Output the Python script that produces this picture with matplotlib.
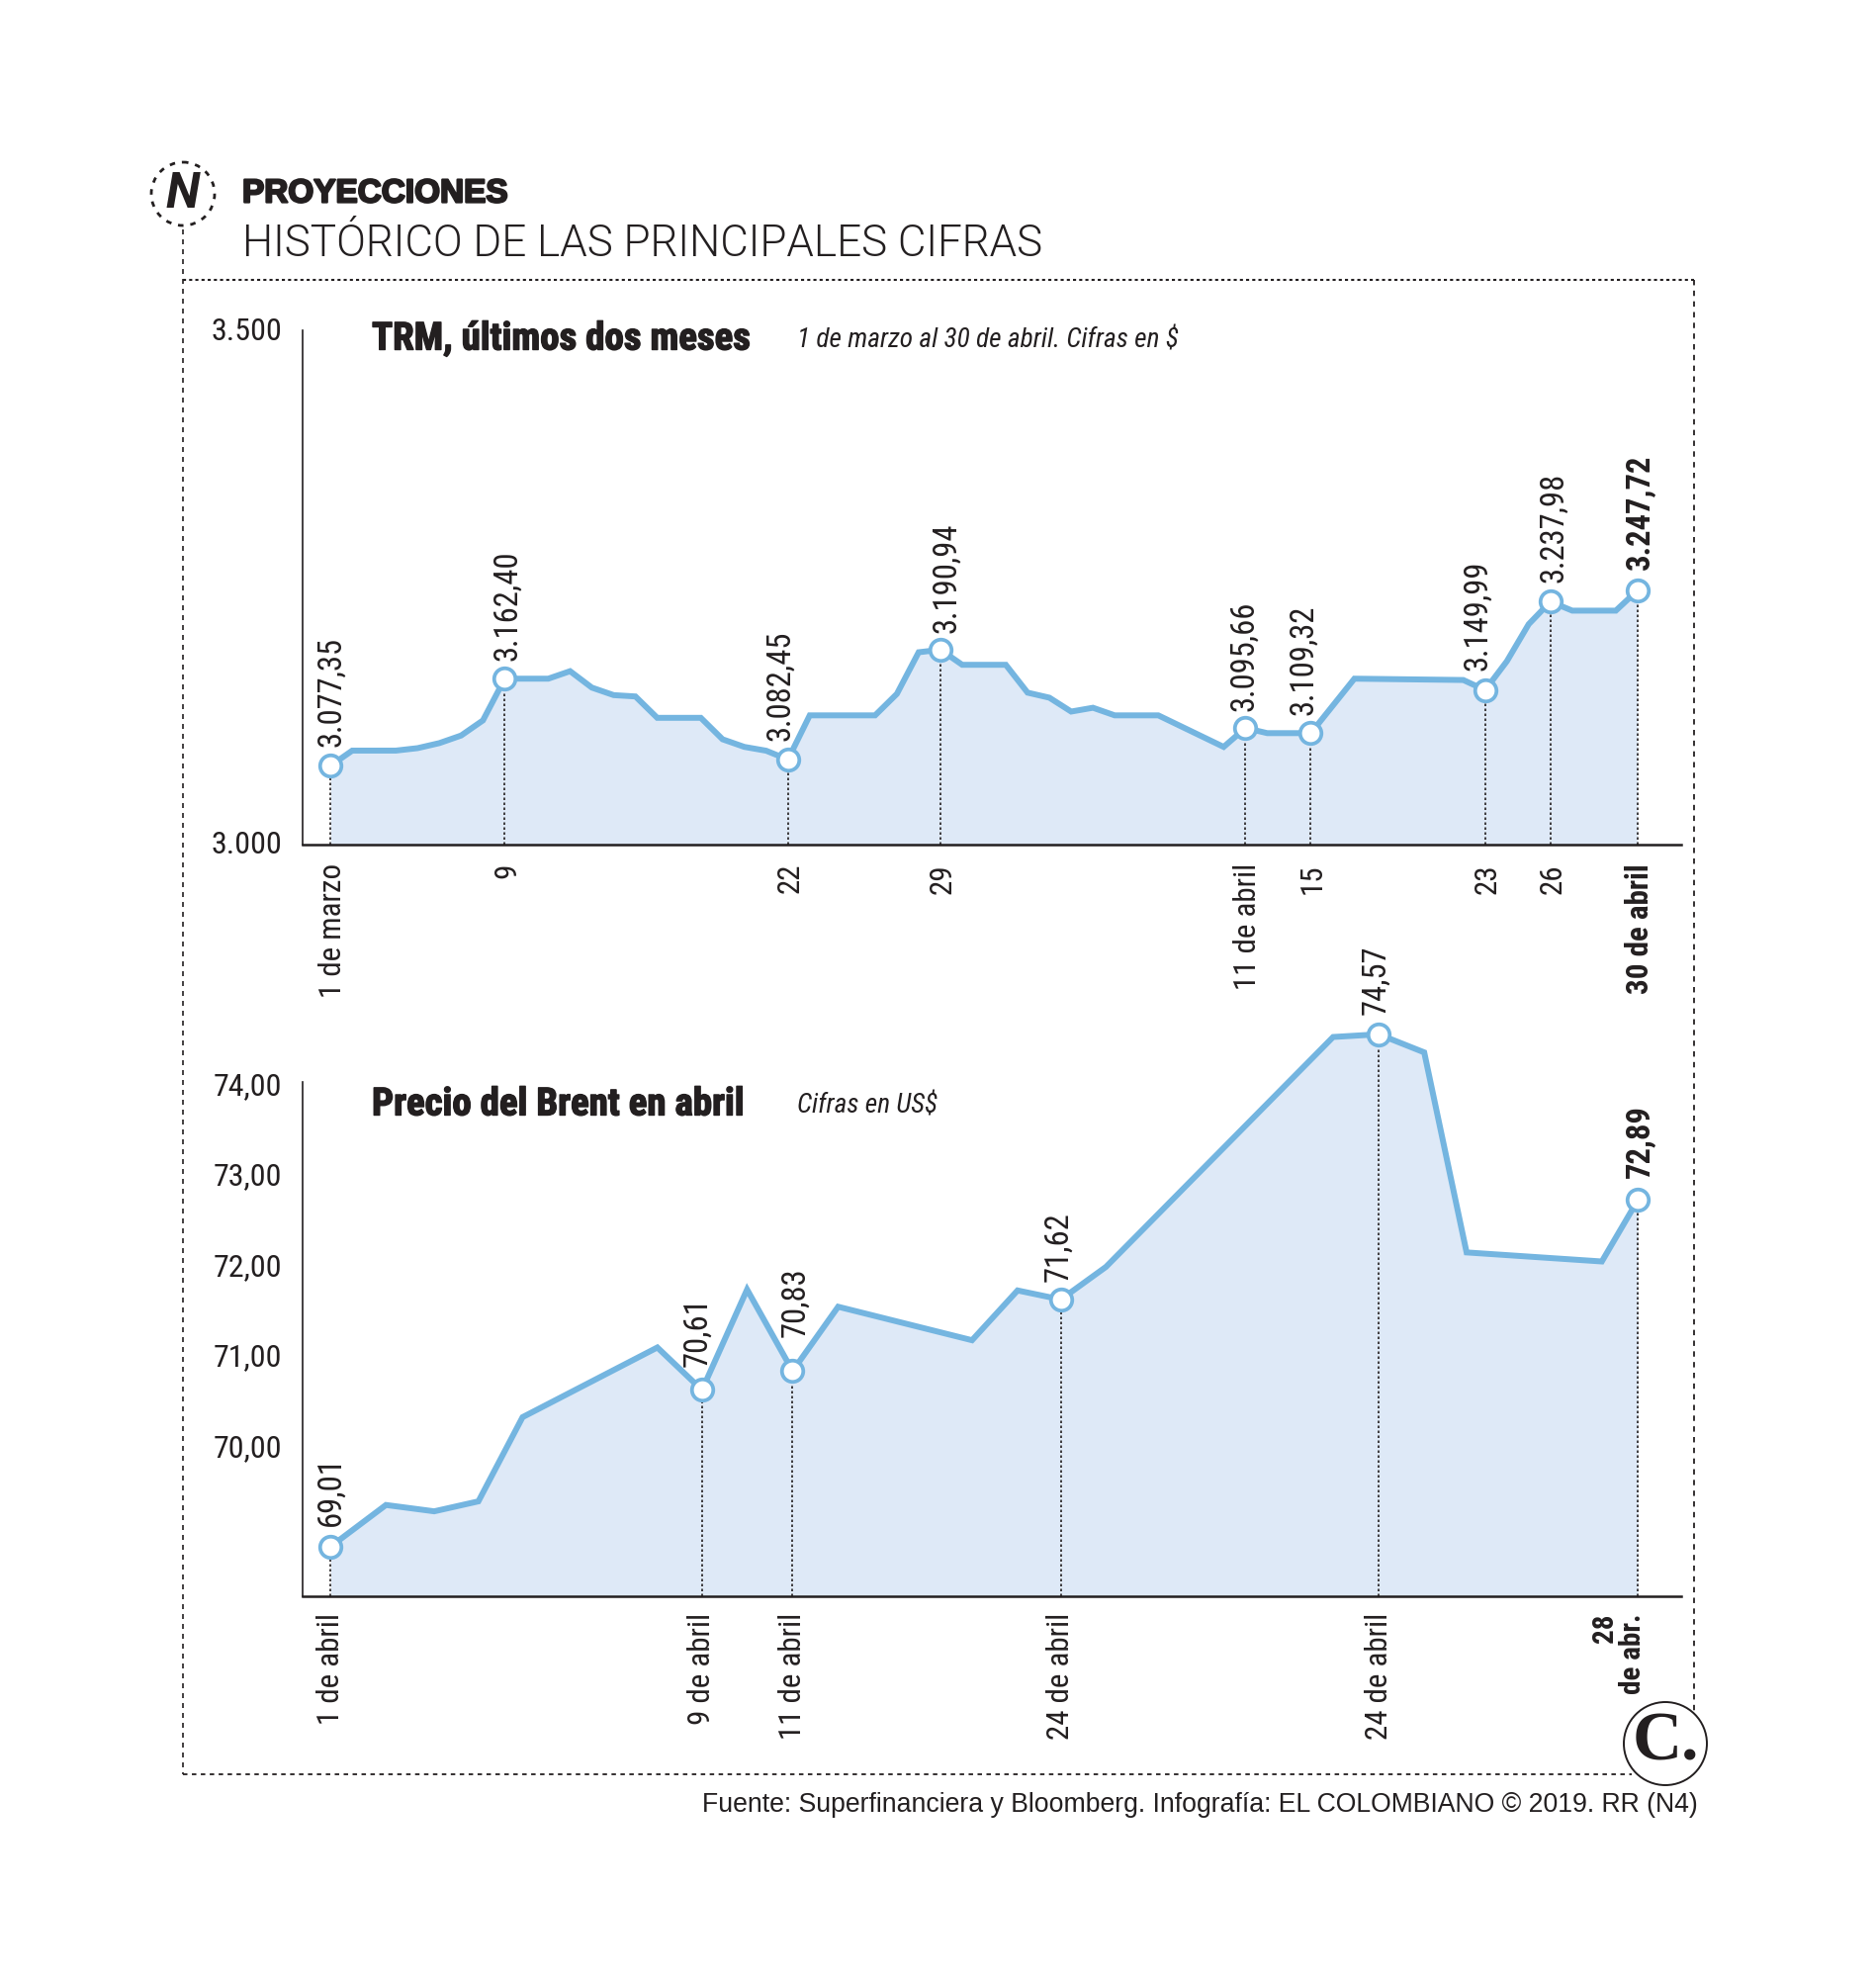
#!/usr/bin/env python3
import matplotlib
matplotlib.use("Agg")
import matplotlib.pyplot as plt
import matplotlib.patheffects as pe
from matplotlib.patches import Circle
from matplotlib.transforms import ScaledTranslation

# TRM series: position on the day axis and value
trm_x = [0, 1, 3, 4, 5, 6, 7, 8, 10, 11, 12, 13, 14, 15, 17, 18, 19, 20, 21, 22, 25, 26, 27, 28, 29,
         31, 32, 33, 34, 35, 36, 38, 41, 42, 43, 45, 47, 52, 53, 54, 55, 56, 57, 59, 60]
trm_y = [3076.2, 3091, 3091, 3093.4, 3098.3, 3105.7, 3120.4, 3161, 3161, 3168.3, 3152.3, 3145, 3143.7,
         3122.9, 3122.9, 3102, 3094.6, 3090.9, 3082.3, 3125.3, 3125.3, 3146.2, 3186.7, 3189.2, 3174.5,
         3174.5, 3147.4, 3142.5, 3129, 3132.7, 3125.3, 3125.3, 3094.6, 3113, 3108, 3108, 3161, 3159.7,
         3149.9, 3178, 3214, 3236, 3227.2, 3227.2, 3247]
trm_marks = [0, 8, 21, 28, 42, 45, 53, 56, 60]
trm_mark_text = ["3.077,35", "3.162,40", "3.082,45", "3.190,94", "3.095,66", "3.109,32", "3.149,99",
                 "3.237,98", "3.247,72"]
trm_ticks = ["1 de marzo", "9", "22", "29", "11 de abril", "15", "23", "26", "30 de abril"]

# Brent series
brent_x = [0, 1.23, 2.3, 3.28, 4.26, 7.25, 8.24, 9.24, 10.25, 11.26, 14.23, 15.24, 16.2, 17.2, 22.24,
           23.25, 24.26, 25.2, 28.2, 29]
brent_y = [68.90, 69.36, 69.29, 69.40, 70.33, 71.10, 70.63, 71.74, 70.84, 71.55, 71.18, 71.73, 71.63,
           71.99, 74.53, 74.56, 74.36, 72.15, 72.05, 72.73]
brent_marks = [0, 8.24, 10.25, 16.2, 23.25, 29]
brent_mark_text = ["69,01", "70,61", "70,83", "71,62", "74,57", "72,89"]
brent_ticks = ["1 de abril", "9 de abril", "11 de abril", "24 de abril", "24 de abril", "28\nde abr."]

# label nudges in points, hand placed per marker
trm_offsets = [(1, 14), (2, 13), (-5.5, 14), (4.5, 12), (-1, 12), (-5.5, 13), (-5.5, 14), (2.5, 14), (2, 15)]
brent_offsets = [(0, 15), (-3.5, 17), (2, 25), (-2, 13), (-2, 14), (2, 16)]

W, H = 1897, 2000
DARK = "#231f20"
LINE = "#74b5e0"
FILL = "#dee9f7"
SANS = ["Liberation Sans", "DejaVu Sans"]
NARROW = ["Roboto Condensed", "Liberation Sans", "DejaVu Sans"]
DOT = (0, (1.5, 1.5))

plt.rcParams["font.family"] = SANS
plt.rcParams["text.color"] = DARK

fig = plt.figure(figsize=(W / 100, H / 100), dpi=100, facecolor="white")

# overlay in pixel coordinates for the frame, heading and logos
bg = fig.add_axes([0, 0, 1, 1])
bg.set_xlim(0, W)
bg.set_ylim(H, 0)
bg.axis("off")


def px_axes(left, top, right, bottom):
    return fig.add_axes([left / W, 1 - bottom / H, (right - left) / W, (bottom - top) / H], facecolor="none")


def shift(label, dx, dy):
    label.set_transform(label.get_transform() + ScaledTranslation(dx / 72, dy / 72, fig.dpi_scale_trans))


def draw_chart(ax, xs, ys, marks, mark_text, offsets, tick_text, ylim, yticks, ylabels, spine_top):
    ax.fill_between(xs, ys, ylim[0], color=FILL, lw=0, zorder=1)
    ax.plot(xs, ys, color=LINE, lw=4.3, solid_joinstyle="miter", zorder=3)
    ax.set_ylim(*ylim)
    lookup = dict(zip(xs, ys))
    for i, (m, txt, off) in enumerate(zip(marks, mark_text, offsets)):
        last = i == len(marks) - 1
        ax.plot([m, m], [ylim[0], lookup[m]], color=DARK, lw=1.2, ls=DOT, zorder=2)
        ax.plot([m], [lookup[m]], marker="o", ms=15.5, mfc="white", mec=LINE, mew=2.7, zorder=4)
        ax.annotate(txt, (m, lookup[m]), xytext=off, textcoords="offset points", rotation=90,
                    ha="center", va="bottom", fontsize=23.5, family=NARROW,
                    fontweight="bold" if last else "normal", color=DARK)
    for s in ("top", "right"):
        ax.spines[s].set_visible(False)
    ax.spines["left"].set_linewidth(1.2)
    ax.spines["left"].set_bounds(ylim[0], spine_top)
    ax.spines["bottom"].set_linewidth(1.8)
    for s in ("left", "bottom"):
        ax.spines[s].set_color(DARK)
    ax.set_yticks(yticks)
    ax.set_yticklabels(ylabels, family=NARROW, fontsize=23, color=DARK)
    ax.set_xticks(marks)
    ax.set_xticklabels(tick_text, rotation=90, family=NARROW, fontsize=22.3, color=DARK, va="top", ha="center")
    ax.tick_params(length=0)
    ax.tick_params(axis="x", pad=14)
    ax.tick_params(axis="y", pad=14.5)
    ax.get_xticklabels()[-1].set_fontweight("bold")
    for lab in ax.get_xticklabels():
        shift(lab, 1.5, 0)
    for lab in ax.get_yticklabels():
        shift(lab, 0, 1.2)


ax1 = px_axes(305.5, 334, 1700, 853.5)
ax1.set_xlim(-1.30, 62.0)
draw_chart(ax1, trm_x, trm_y, trm_marks, trm_mark_text, trm_offsets, trm_ticks, (3000, 3500), [3000, 3500],
           ["3.000", "3.500"], 3500)

ax2 = px_axes(305.5, 1005.5, 1700, 1613.7)
ax2.set_xlim(-0.63, 29.96)
draw_chart(ax2, brent_x, brent_y, brent_marks, brent_mark_text, brent_offsets, brent_ticks, (68.355, 75),
           [70, 71, 72, 73, 74], ["70,00", "71,00", "72,00", "73,00", "74,00"], 74.03)
ax2.tick_params(axis="x", pad=12.5)
# the last label is stacked in two lines, shifted left of its tick
last_lab = ax2.get_xticklabels()[-1]
last_lab.set_multialignment("right")
last_lab.set_linespacing(1.0)
last_lab.set_fontsize(21)
shift(last_lab, -13.5, 0)

# frame
bg.plot([185, 185], [232, 1794], color=DARK, lw=1.2, ls=(0, (3, 3)))
bg.plot([185, 1713], [283, 283], color=DARK, lw=1.5, ls=DOT)
bg.plot([1713, 1713], [283, 1730], color=DARK, lw=1.3, ls=(0, (3, 3)))
bg.plot([185, 1650], [1794, 1794], color=DARK, lw=1.3, ls=(0, (2.5, 2.5)))

# N badge
bg.add_patch(Circle((185, 196), 32, fc="white", ec=DARK, lw=2, ls=(0, (2, 2.5))))
bg.text(185, 196, "N", fontsize=36, fontweight="bold", style="italic", ha="center", va="center",
        family=["Roboto", "Liberation Sans"])

# C logo
bg.add_patch(Circle((1684, 1763), 42, fc="white", ec=DARK, lw=1.4, zorder=5))
bg.text(1684, 1763, "C.", fontsize=50, fontweight="bold", family=["Liberation Serif", "DejaVu Serif"],
        ha="center", va="center", zorder=6)

# heading
bg.text(245, 196, "PROYECCIONES", fontsize=24, fontweight="bold", va="center",
        path_effects=[pe.withStroke(linewidth=1.6, foreground=DARK)])
bg.text(245, 247, "HISTÓRICO DE LAS PRINCIPALES CIFRAS", fontsize=31.7, fontweight=300,
        family=["Roboto", "Liberation Sans"], va="center")

# chart titles
heavy = [pe.withStroke(linewidth=1.0, foreground=DARK)]
bg.text(376, 343, "TRM, últimos dos meses", fontsize=28, fontweight="bold", family=NARROW, va="center",
        path_effects=heavy)
bg.text(806, 345, "1 de marzo al 30 de abril. Cifras en $", fontsize=19.7, style="italic", family=NARROW,
        va="center")
bg.text(376, 1117, "Precio del Brent en abril", fontsize=28, fontweight="bold", family=NARROW, va="center",
        path_effects=heavy)
bg.text(806, 1119, "Cifras en US$", fontsize=19.7, style="italic", family=NARROW, va="center")

# source
bg.text(1717, 1825, "Fuente: Superfinanciera y Bloomberg. Infografía: EL COLOMBIANO © 2019. RR (N4)",
        fontsize=19.2, ha="right", va="center")

fig.savefig("out.png", dpi=100)
